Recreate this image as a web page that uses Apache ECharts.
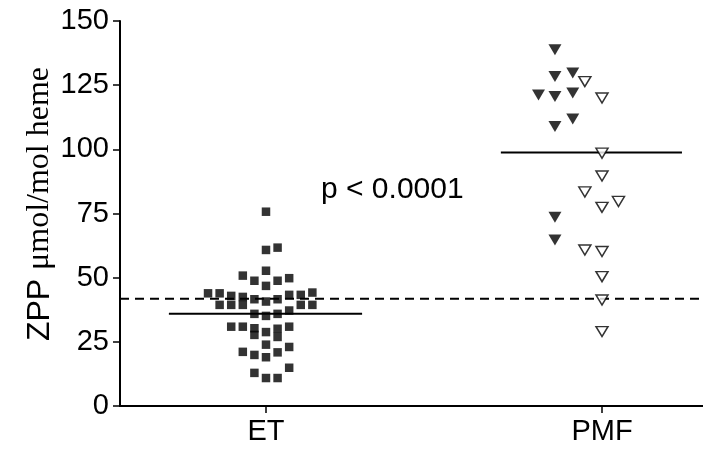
<!DOCTYPE html>
<html>
<head>
<meta charset="utf-8">
<script src="https://cdn.jsdelivr.net/npm/echarts@6/dist/echarts.min.js"></script>
<style>html,body{margin:0;padding:0;background:#fff}#c{width:703px;height:461px}</style>
</head>
<body>
<div id="c"></div>
<script>
// ---------- data ----------
const categories = ['ET', 'PMF'];
const yTicks = [0, 25, 50, 75, 100, 125, 150];

// ET: horizontal jitter (columns) and ZPP values
const etColumns = [0, 0, 1, -2, 0, -1, 1, 2, 0, -5, -4, -3, -2, -1, 1, 2, 3, 4, -4, -3, -2, 0, 3, 4,
  -1, 0, 1, 2, -3, -2, -1, -1, 0, 1, 1, 2, 0, -2, -1, 0, 1, 2, -1, 0, 1, 2];
const etValues = [75.7, 60.8, 61.7, 50.8, 52.7, 48.8, 48.8, 49.8, 46.8, 43.9, 43.9, 42.9, 42.5, 41.6, 41.6, 43.3, 43.3, 44.2,
  39.4, 39.4, 39.4, 40.7, 39.4, 39.4, 35.9, 35.1, 35.9, 37.2, 30.9, 30.9, 30.3, 27.7, 28.8, 30.1, 26.9, 30.9,
  23.9, 21.1, 19.9, 19.0, 20.9, 23.0, 12.9, 10.9, 10.9, 14.9];

// PMF filled triangles: jitter offset (category units) and values
const pmfFilledOffsets = [-0.140, -0.140, -0.087, -0.189, -0.140, -0.087, -0.140, -0.087, -0.140, -0.140];
const pmfFilledValues = [138.8, 128.4, 129.7, 121.2, 120.6, 121.9, 108.9, 111.8, 73.5, 64.7];
// PMF open triangles
const pmfOpenOffsets = [-0.051, 0, 0, 0, -0.051, 0, 0.049, -0.051, 0, 0, 0, 0];
const pmfOpenValues = [126.4, 120.0, 98.5, 89.6, 83.4, 77.4, 79.7, 60.8, 60.2, 50.4, 41.3, 29.0];

// summary lines
const medians = [35.9, 98.8];
const medianSpans = [[0.711, 1.286], [1.699, 2.238]];
const cutoff = 41.8;
const xRange = [0.5655, 2.3006];
const etColumnStep = 0.0345;
const pValueText = 'p < 0.0001';

// ---------- chart ----------
const etPos = 1, pmfPos = 2;
const etData = etValues.map((v, i) => [etPos + etColumns[i] * etColumnStep, v]);
const pmfFilled = pmfFilledValues.map((v, i) => [pmfPos + pmfFilledOffsets[i], v]);
const pmfOpen = pmfOpenValues.map((v, i) => [pmfPos + pmfOpenOffsets[i], v]);

const chart = echarts.init(document.getElementById('c'), null, {renderer: 'canvas'});
const font = '"Liberation Sans", Arial, sans-serif';
chart.setOption({
  animation: false,
  backgroundColor: '#fff',
  grid: {left: 120, right: 0, top: 21, bottom: 55, containLabel: false},
  xAxis: {
    type: 'value', min: xRange[0], max: xRange[1],
    axisLine: {show: true, onZero: false, lineStyle: {color: '#000', width: 2}},
    axisTick: {show: true, length: 7, lineStyle: {color: '#000', width: 1.5}, customValues: [etPos, pmfPos]},
    axisLabel: {show: true, customValues: [etPos, pmfPos], margin: 11,
      formatter: v => categories[Math.round(v) - 1] || '', color: '#000', fontSize: 29, fontFamily: font},
    splitLine: {show: false}
  },
  yAxis: {
    type: 'value', min: 0, max: 150, interval: 25,
    axisLine: {show: true, lineStyle: {color: '#000', width: 2}},
    axisTick: {show: true, length: 7, lineStyle: {color: '#000', width: 1.5}, customValues: yTicks},
    axisLabel: {customValues: yTicks, margin: 11, color: '#000', fontSize: 29, fontFamily: font},
    splitLine: {show: false}
  },
  graphic: [
    {type: 'text', left: 321, top: 175, style: {text: pValueText, fontSize: 30, fontFamily: font, fill: '#000'}},
    {type: 'text', x: 40, y: 204, rotation: Math.PI / 2,
      style: {
        text: '{a|ZPP }{b|μmol/mol heme}', align: 'center', verticalAlign: 'middle',
        rich: {
          a: {fontSize: 32, fontFamily: font, fill: '#000'},
          b: {fontSize: 32, fontFamily: '"Liberation Serif", "Times New Roman", serif', fill: '#000'}
        }
      }}
  ],
  series: [
    {type: 'line', data: [[xRange[0], cutoff], [xRange[1], cutoff]], symbol: 'none', z: 1,
      lineStyle: {color: '#000', width: 2, type: [9, 6]}},
    {type: 'line', data: medianSpans[0].map(x => [x, medians[0]]), symbol: 'none', z: 1,
      lineStyle: {color: '#000', width: 2}},
    {type: 'line', data: medianSpans[1].map(x => [x, medians[1]]), symbol: 'none', z: 1,
      lineStyle: {color: '#000', width: 2}},
    {type: 'scatter', data: etData, symbol: 'rect', symbolSize: 8.5, z: 3,
      itemStyle: {color: '#000'}},
    {type: 'scatter', data: pmfFilled, symbol: 'triangle', symbolRotate: 180, symbolSize: [13, 11], z: 3,
      itemStyle: {color: '#000'}},
    {type: 'scatter', data: pmfOpen, symbol: 'triangle', symbolRotate: 180, symbolSize: [12, 10], z: 3,
      itemStyle: {color: '#fff', borderColor: '#000', borderWidth: 1.5}}
  ]
});
</script>
</body>
</html>
